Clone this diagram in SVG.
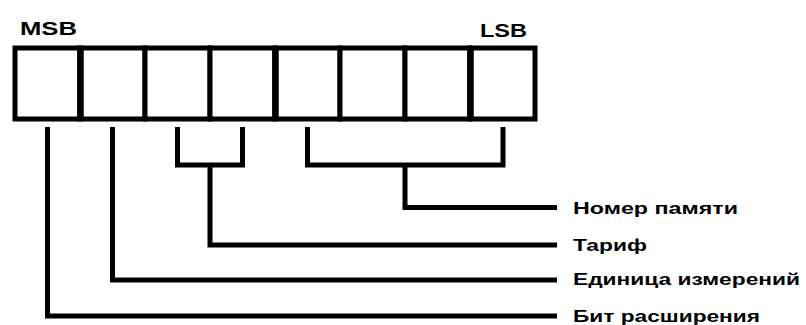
<svg xmlns="http://www.w3.org/2000/svg" width="806" height="325" viewBox="0 0 806 325">
<style>
.ln{fill:none;stroke:#000;stroke-width:5;stroke-linejoin:miter;stroke-linecap:butt}
.cell{fill:#fff;stroke:#000;stroke-width:5}
.tk{stroke:#000;stroke-width:6.5}
.t{font-family:"Liberation Sans",Arial,sans-serif;font-weight:bold;font-size:17px;fill:#000}
.h{font-family:"Liberation Sans",Arial,sans-serif;font-weight:bold;font-size:18px;fill:#000}
</style>
<rect width="806" height="325" fill="#fff"/>
<g id="register">
  <rect class="cell" x="15" y="48" width="65" height="71"/>
  <rect class="cell" x="80" y="48" width="65" height="71"/>
  <rect class="cell" x="145" y="48" width="65" height="71"/>
  <rect class="cell" x="210" y="48" width="65" height="71"/>
  <rect class="cell" x="275" y="48" width="65" height="71"/>
  <rect class="cell" x="340" y="48" width="65" height="71"/>
  <rect class="cell" x="405" y="48" width="65" height="71"/>
  <rect class="cell" x="470" y="48" width="65" height="71"/>
  <line class="tk" x1="80.5" y1="46" x2="80.5" y2="121"/>
  <line class="tk" x1="275.5" y1="46" x2="275.5" y2="121"/>
  <line class="tk" x1="470.5" y1="46" x2="470.5" y2="121"/>
</g>
<g id="msb"><text class="h" x="20" y="35" textLength="57" lengthAdjust="spacingAndGlyphs">MSB</text></g>
<g id="lsb"><text class="h" x="480" y="37" textLength="47" lengthAdjust="spacingAndGlyphs">LSB</text></g>
<g id="connectors">
  <path class="ln" d="M47.5 127V316H557"/>
  <path class="ln" d="M112.5 127V280H557"/>
  <path class="ln" d="M177.5 127V165H242.5V127"/>
  <path class="ln" d="M210 165V245H557"/>
  <path class="ln" d="M307.5 127V165H503V127"/>
  <path class="ln" d="M405 165V207.5H557"/>
</g>
<g id="label-nomer"><text class="t" x="573" y="214" textLength="165" lengthAdjust="spacingAndGlyphs">Номер памяти</text></g>
<g id="label-tarif"><text class="t" x="573" y="251" textLength="74" lengthAdjust="spacingAndGlyphs">Тариф</text></g>
<g id="label-edinica"><text class="t" x="573" y="285" textLength="227" lengthAdjust="spacingAndGlyphs">Единица измерений</text></g>
<g id="label-bit"><text class="t" x="573" y="322" textLength="187" lengthAdjust="spacingAndGlyphs">Бит расширения</text></g>
</svg>
